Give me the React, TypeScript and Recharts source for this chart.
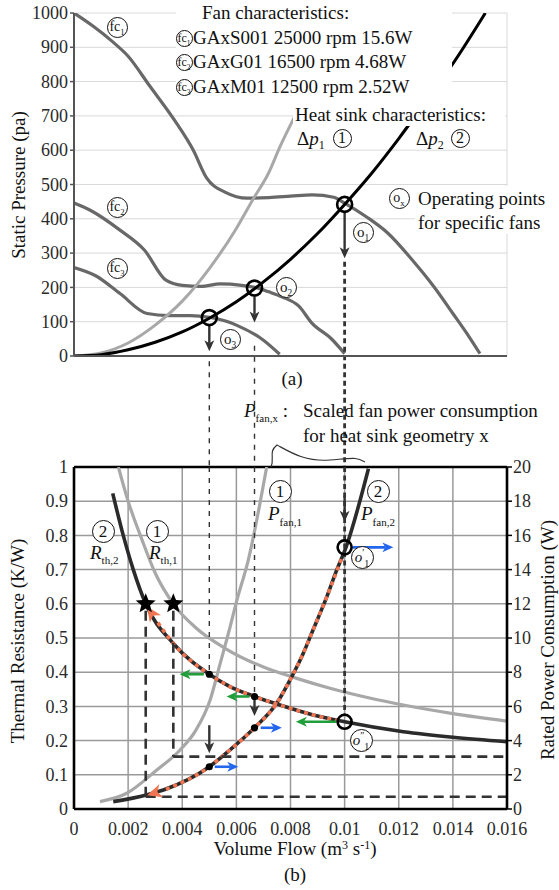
import React from 'react';
import { LineChart, Line, XAxis, YAxis, CartesianGrid, ReferenceLine, ReferenceDot } from 'recharts';

const FONT = "'Liberation Serif', 'Times New Roman', Times, serif";

// ---------- axes ----------
const FLOW_TICKS = [0, 0.002, 0.004, 0.006, 0.008, 0.01, 0.012, 0.014, 0.016];
const PRESSURE_TICKS = [0, 100, 200, 300, 400, 500, 600, 700, 800, 900, 1000];
const RTH_TICKS = [0, 0.1, 0.2, 0.3, 0.4, 0.5, 0.6, 0.7, 0.8, 0.9, 1];
const POWER_TICKS = [0, 2, 4, 6, 8, 10, 12, 14, 16, 18, 20];

// ---------- (a) fan characteristics [flow, pressure] ----------
const fc1Pts = [[0, 1000], [0.0007, 962], [0.0014, 918], [0.002, 874], [0.0028, 787], [0.0037, 689], [0.0044, 601], [0.0049, 519], [0.0056, 477], [0.0064, 460], [0.0072, 462], [0.008, 466], [0.0088, 470], [0.0096, 463], [0.01, 446], [0.0108, 406], [0.0116, 358], [0.0125, 280], [0.0133, 202], [0.014, 124], [0.0146, 56], [0.015, 7]];
const fc2Pts = [[0, 446], [0.0006, 425], [0.0017, 367], [0.0026, 309], [0.0034, 221], [0.004, 206], [0.0047, 203], [0.0054, 210], [0.0062, 206], [0.0067, 200], [0.0072, 187], [0.0077, 172], [0.0083, 146], [0.0088, 95], [0.0095, 51], [0.01, 7]];
const fc3Pts = [[0, 258], [0.0008, 234], [0.0017, 182], [0.0027, 124], [0.0035, 118], [0.0043, 118], [0.005, 113], [0.0056, 102], [0.006, 90], [0.007, 46], [0.0076, 5]];
// heat sink characteristics
const dp1Pts = [[0, 0], [0.001, 9], [0.002, 38], [0.003, 90], [0.004, 160], [0.005, 255], [0.006, 372], [0.0066, 455], [0.0072, 535], [0.0076, 608], [0.0082, 705]];
const dp2Pts = [[0, 0], [0.001, 4], [0.002, 18], [0.003, 40], [0.004, 70], [0.005, 110], [0.006, 158], [0.007, 216], [0.008, 282], [0.009, 357], [0.01, 442], [0.011, 533], [0.012, 634], [0.013, 742], [0.014, 852], [0.0152, 1000]];
// operating points
const opPts = [[0.01, 442], [0.00667, 198], [0.005, 112]];

// ---------- (b) thermal resistance [flow, K/W] and power [flow, W] ----------
const rth1Pts = [[0.00164, 1.0], [0.002, 0.9], [0.0025, 0.79], [0.003, 0.69], [0.00367, 0.6], [0.0045, 0.53], [0.00558, 0.47], [0.007, 0.415], [0.00823, 0.382], [0.00946, 0.353], [0.011, 0.323], [0.01217, 0.304], [0.014, 0.279], [0.016, 0.257]];
const rth2Pts = [[0.00143, 0.923], [0.00182, 0.8], [0.00219, 0.7], [0.00265, 0.6], [0.00367, 0.484], [0.005, 0.394], [0.00576, 0.358], [0.00667, 0.329], [0.00761, 0.304], [0.00884, 0.275], [0.01, 0.255], [0.01217, 0.226], [0.014, 0.21], [0.016, 0.197]];
const rth2PathPts = [[0.0031, 0.545], [0.00367, 0.484], [0.005, 0.394], [0.00576, 0.358], [0.00667, 0.329], [0.00761, 0.304], [0.00884, 0.275], [0.0098, 0.258]];
const pfan1Pts = [[0.00096, 0.43], [0.00195, 0.92], [0.00306, 2.28], [0.00392, 3.45], [0.0045, 4.6], [0.00503, 6.37], [0.0054, 8.5], [0.00576, 10.6], [0.006, 12.1], [0.00644, 14.56], [0.00712, 20]];
const pfan2Pts = [[0.00145, 0.43], [0.00268, 0.82], [0.0033, 1.11], [0.005, 2.47], [0.00576, 3.45], [0.00667, 4.75], [0.00749, 6.18], [0.00798, 7.54], [0.00847, 9.1], [0.00884, 10.5], [0.00934, 12.4], [0.00971, 13.98], [0.01005, 15.3], [0.01088, 19.9]];
const pfan2PathPts = [[0.0034, 1.15], [0.005, 2.47], [0.00576, 3.45], [0.00667, 4.75], [0.00749, 6.18], [0.00798, 7.54], [0.00847, 9.1], [0.00884, 10.5], [0.00934, 12.4], [0.0099, 14.7]];
const starPts = [[0.00265, 0.6], [0.00367, 0.6]];

// annotations (data coordinates)
const topArrows = [[0.005, 92, 0.005, 14], [0.00667, 172, 0.00667, 98], [0.01, 418, 0.01, 285]];
const topThinDash = [[0.005, -15, 0.005, -325], [0.00667, 30, 0.00667, -325]];
const topThickDash = [[0.01, 275, 0.01, -325]];
const botThinDash = [[0.005, 1, 0.005, 0.4], [0.00667, 1, 0.00667, 0.335]];
const botThickDash = [[0.01, 1, 0.01, 0.275]];
const botArrows = [[0.005, 0.245, 0.005, 0.163], [0.00667, 0.322, 0.00667, 0.272], [0.01, 0.915, 0.01, 0.84]];
const starDash = [[0.00265, 0.58, 0.00265, 0.036], [0.00265, 0.036, 0.016, 0.036], [0.00367, 0.58, 0.00367, 0.153], [0.00367, 0.153, 0.016, 0.153]];
const greenArrows = [[0.0048, 0.394, 0.0039, 0.394], [0.00648, 0.329, 0.00564, 0.329], [0.0097, 0.255, 0.0082, 0.255]];
const blueArrows = [[0.0052, 2.47, 0.00607, 2.47], [0.0069, 4.75, 0.00768, 4.75], [0.0103, 15.3, 0.0118, 15.3]];
const rDots = [[0.005, 0.394], [0.00667, 0.329]];
const pDots = [[0.005, 2.47], [0.00667, 4.75]];
const orangeHeadsL = [[0.0031, 0.545, 0.0027, 0.592]];
const orangeHeadsR = [[0.0034, 1.15, 0.0027, 0.8]];

const xy = (pts: number[][]) => pts.map(([x, y]) => ({ x, y }));
const fmt = (v: number) => String(Math.round(v * 1000) / 1000);

const ORANGE = '#f07552';
const DARK = '#333';

const makeTick = (formatter?: (v: number) => string) => (p: any) => {
  const va = p.verticalAnchor;
  const dy = va === 'start' ? '0.71em' : va === 'end' ? '0' : '0.34em';
  const v = p.payload ? p.payload.value : '';
  return (
    <text x={p.x} y={p.y} textAnchor={p.textAnchor} dy={dy} fontSize={18} fontFamily={FONT} fill="#2a2a2a">
      {formatter ? formatter(v) : String(v)}
    </text>
  );
};

const arrowShape = (color: string, w: number, head: number, showLine = true) => (p: any) => {
  const { x1, y1, x2, y2 } = p;
  if (![x1, y1, x2, y2].every((v: any) => Number.isFinite(v))) return <g />;
  const dx = x2 - x1, dy = y2 - y1;
  const L = Math.hypot(dx, dy) || 1;
  const ux = dx / L, uy = dy / L;
  const hw = head * 0.45;
  const bx = x2 - ux * head, by = y2 - uy * head;
  const nx = x2 - ux * head * 0.72, ny = y2 - uy * head * 0.72;
  const pts = `${x2},${y2} ${bx - uy * hw},${by + ux * hw} ${nx},${ny} ${bx + uy * hw},${by - ux * hw}`;
  return (
    <g>
      {showLine && <line x1={x1} y1={y1} x2={nx} y2={ny} stroke={color} strokeWidth={w} />}
      <polygon points={pts} fill={color} />
    </g>
  );
};

const starShape = (p: any) => {
  const { cx, cy } = p;
  const pts: string[] = [];
  for (let i = 0; i < 10; i++) {
    const r = i % 2 === 0 ? 10.5 : 4.6;
    const a = -Math.PI / 2 + (i * Math.PI) / 5;
    pts.push(`${cx + r * Math.cos(a)},${cy + r * Math.sin(a)}`);
  }
  return <polygon points={pts.join(' ')} fill="#000" />;
};

const seg = (s: number[]) => [{ x: s[0], y: s[1] }, { x: s[2], y: s[3] }];

// ---------- HTML text helpers ----------
const Txt = ({ x, y, fs = 19, children, center = false, bg = false, color = '#111' }: any) => (
  <div style={{ position: 'absolute', left: x, top: y - fs * 0.62, height: fs * 1.24, lineHeight: `${fs * 1.24}px`, fontSize: fs, whiteSpace: 'nowrap', transform: center ? 'translateX(-50%)' : undefined, background: bg ? '#fff' : undefined, fontFamily: FONT, color }}>{children}</div>
);
const Circ = ({ cx, cy, d, fs, children, bw = 1.4 }: any) => (
  <div style={{ position: 'absolute', left: cx - d / 2, top: cy - d / 2, width: d, height: d, boxSizing: 'border-box', border: `${bw}px solid #111`, borderRadius: '50%', display: 'flex', alignItems: 'center', justifyContent: 'center', fontSize: fs, fontFamily: FONT, background: '#fff', lineHeight: 1, color: '#111' }}>{children}</div>
);
const Sub = ({ children, fs, dy = 0.35 }: any) => (
  <span style={{ fontSize: fs, position: 'relative', top: `${dy}em` }}>{children}</span>
);
const FcLabel = ({ n, fs }: any) => (<span>fc<Sub fs={fs * 0.62} dy={0.5}>{n}</Sub></span>);
const OLabel = ({ n, fs }: any) => (<span>o<Sub fs={fs * 0.62} dy={0.5}>{n}</Sub></span>);
const WhiteBox = ({ x, y, w, h }: any) => (
  <div style={{ position: 'absolute', left: x, top: y, width: w, height: h, background: '#fff' }} />
);

export default function App() {
  return (
    <div style={{ position: 'absolute', left: 0, top: 0, width: 559, height: 890, background: '#fff', overflow: 'hidden', fontFamily: FONT }}>
      {/* ---------- (a) ---------- */}
      <div style={{ position: 'absolute', left: 0, top: 0 }}>
        <LineChart width={559} height={890} margin={{ top: 13, right: 52, bottom: 504, left: 14 }}>
          <CartesianGrid stroke="#d9d9d9" strokeWidth={1} />
          <XAxis type="number" dataKey="x" domain={[0, 0.016]} ticks={FLOW_TICKS} allowDataOverflow tick={false} tickSize={4} height={30} axisLine={{ stroke: '#555', strokeWidth: 2 }} tickLine={{ stroke: '#555', strokeWidth: 1.5 }} />
          <YAxis type="number" domain={[0, 1000]} ticks={PRESSURE_TICKS} allowDataOverflow width={60} tickSize={4} tickMargin={2} tick={makeTick()} axisLine={{ stroke: '#555', strokeWidth: 2 }} tickLine={{ stroke: '#555', strokeWidth: 1.5 }} />
          <Line data={xy(fc1Pts)} dataKey="y" type="monotone" stroke="#686868" strokeWidth={3.2} dot={false} activeDot={false} isAnimationActive={false} />
          <Line data={xy(fc2Pts)} dataKey="y" type="monotone" stroke="#686868" strokeWidth={3.2} dot={false} activeDot={false} isAnimationActive={false} />
          <Line data={xy(fc3Pts)} dataKey="y" type="monotone" stroke="#686868" strokeWidth={3.2} dot={false} activeDot={false} isAnimationActive={false} />
          <Line data={xy(dp1Pts)} dataKey="y" type="monotone" stroke="#a8a8a8" strokeWidth={3} dot={false} activeDot={false} isAnimationActive={false} />
          <Line data={xy(dp2Pts)} dataKey="y" type="monotone" stroke="#000" strokeWidth={3} dot={false} activeDot={false} isAnimationActive={false} />
          {topThinDash.map((s, i) => (
            <ReferenceLine key={'ttd' + i} segment={seg(s)} ifOverflow="visible" stroke={DARK} strokeWidth={1.4} strokeDasharray="5 6" />
          ))}
          {topThickDash.map((s, i) => (
            <ReferenceLine key={'tkd' + i} segment={seg(s)} ifOverflow="visible" stroke={DARK} strokeWidth={2.8} strokeDasharray="5 3.5" />
          ))}
          {topArrows.map((s, i) => (
            <ReferenceLine key={'ta' + i} segment={seg(s)} ifOverflow="visible" shape={arrowShape(DARK, 2.4, 11)} />
          ))}
          {opPts.map(([x, y], i) => (
            <ReferenceDot key={'op' + i} x={x} y={y} r={7.5} fill="none" stroke="#000" strokeWidth={2.6} ifOverflow="visible" />
          ))}
        </LineChart>
      </div>

      {/* ---------- (b) ---------- */}
      <div style={{ position: 'absolute', left: 0, top: 0 }}>
        <LineChart width={559} height={890} margin={{ top: 467, right: 0, bottom: 51, left: 14 }}>
          <CartesianGrid yAxisId="L" stroke="#9a9a9a" strokeWidth={1.5} />
          <XAxis type="number" dataKey="x" domain={[0, 0.016]} ticks={FLOW_TICKS} allowDataOverflow height={30} tickSize={8} tickMargin={5} tick={makeTick(fmt)} tickLine={false} axisLine={{ stroke: '#000', strokeWidth: 2.6 }} />
          <YAxis yAxisId="L" type="number" domain={[0, 1]} ticks={RTH_TICKS} allowDataOverflow width={60} tickSize={4} tickMargin={2} tick={makeTick(fmt)} tickLine={false} axisLine={{ stroke: '#000', strokeWidth: 2.6 }} />
          <YAxis yAxisId="R" orientation="right" type="number" domain={[0, 20]} ticks={POWER_TICKS} allowDataOverflow width={52} tickSize={5} tickMargin={1} tick={makeTick()} tickLine={{ stroke: '#000', strokeWidth: 1.5 }} axisLine={{ stroke: '#000', strokeWidth: 2.6 }} />
          <ReferenceLine yAxisId="L" y={1} stroke="#000" strokeWidth={2.6} />
          <Line yAxisId="L" data={xy(rth1Pts)} dataKey="y" type="monotone" stroke="#a8a8a8" strokeWidth={3.2} dot={false} activeDot={false} isAnimationActive={false} />
          <Line yAxisId="R" data={xy(pfan1Pts)} dataKey="y" type="monotone" stroke="#a8a8a8" strokeWidth={3.2} dot={false} activeDot={false} isAnimationActive={false} />
          <Line yAxisId="L" data={xy(rth2Pts)} dataKey="y" type="monotone" stroke="#2b2b2b" strokeWidth={3.6} dot={false} activeDot={false} isAnimationActive={false} />
          <Line yAxisId="R" data={xy(pfan2Pts)} dataKey="y" type="monotone" stroke="#2b2b2b" strokeWidth={3.6} dot={false} activeDot={false} isAnimationActive={false} />
          <Line yAxisId="L" data={xy(rth2PathPts)} dataKey="y" type="monotone" stroke={ORANGE} strokeWidth={3.6} strokeDasharray="4 4" dot={false} activeDot={false} isAnimationActive={false} />
          <Line yAxisId="R" data={xy(pfan2PathPts)} dataKey="y" type="monotone" stroke={ORANGE} strokeWidth={3.6} strokeDasharray="4 4" dot={false} activeDot={false} isAnimationActive={false} />
          {botThinDash.map((s, i) => (
            <ReferenceLine key={'btd' + i} yAxisId="L" segment={seg(s)} ifOverflow="visible" stroke={DARK} strokeWidth={1.4} strokeDasharray="5 6" />
          ))}
          {botThickDash.map((s, i) => (
            <ReferenceLine key={'bkd' + i} yAxisId="L" segment={seg(s)} ifOverflow="visible" stroke={DARK} strokeWidth={2.8} strokeDasharray="5 3.5" />
          ))}
          {starDash.map((s, i) => (
            <ReferenceLine key={'sd' + i} yAxisId="L" segment={seg(s)} ifOverflow="visible" stroke={DARK} strokeWidth={2.6} strokeDasharray="10 6" />
          ))}
          {botArrows.map((s, i) => (
            <ReferenceLine key={'ba' + i} yAxisId="L" segment={seg(s)} ifOverflow="visible" shape={arrowShape(DARK, 2.4, 11)} />
          ))}
          {greenArrows.map((s, i) => (
            <ReferenceLine key={'ga' + i} yAxisId="L" segment={seg(s)} ifOverflow="visible" shape={arrowShape('#1f9e3a', 2.6, 11)} />
          ))}
          {blueArrows.map((s, i) => (
            <ReferenceLine key={'bl' + i} yAxisId="R" segment={seg(s)} ifOverflow="visible" shape={arrowShape('#2266ee', 2.6, 11)} />
          ))}
          {orangeHeadsL.map((s, i) => (
            <ReferenceLine key={'ohl' + i} yAxisId="L" segment={seg(s)} ifOverflow="visible" shape={arrowShape(ORANGE, 0, 15, false)} />
          ))}
          {orangeHeadsR.map((s, i) => (
            <ReferenceLine key={'ohr' + i} yAxisId="R" segment={seg(s)} ifOverflow="visible" shape={arrowShape(ORANGE, 0, 15, false)} />
          ))}
          {rDots.map(([x, y], i) => (
            <ReferenceDot key={'rd' + i} yAxisId="L" x={x} y={y} r={3.6} fill="#000" stroke="none" ifOverflow="visible" />
          ))}
          {pDots.map(([x, y], i) => (
            <ReferenceDot key={'pd' + i} yAxisId="R" x={x} y={y} r={3.6} fill="#000" stroke="none" ifOverflow="visible" />
          ))}
          {starPts.map(([x, y], i) => (
            <ReferenceDot key={'st' + i} yAxisId="L" x={x} y={y} r={10} shape={starShape} ifOverflow="visible" />
          ))}
          <ReferenceDot yAxisId="L" x={0.01} y={0.255} r={7} fill="none" stroke="#000" strokeWidth={2.6} ifOverflow="visible" />
          <ReferenceDot yAxisId="R" x={0.01} y={15.3} r={7} fill="none" stroke="#000" strokeWidth={2.6} ifOverflow="visible" />
        </LineChart>
      </div>

      {/* ---------- text overlays (a) ---------- */}
      <WhiteBox x={176} y={0} w={276} h={99} />
      <WhiteBox x={293} y={99} w={212} h={27} />
      <WhiteBox x={386} y={186} w={172} h={24} />
      <WhiteBox x={415} y={210} w={143} h={24} />
      <Txt x={202} y={13}>Fan characteristics:</Txt>
      <Circ cx={184} cy={38} d={17} fs={12}><FcLabel n="1" fs={12} /></Circ>
      <Txt x={193} y={38}>GAxS001 25000 rpm 15.6W</Txt>
      <Circ cx={184} cy={62} d={17} fs={12}><FcLabel n="2" fs={12} /></Circ>
      <Txt x={193} y={62}>GAxG01 16500 rpm 4.68W</Txt>
      <Circ cx={184} cy={87} d={17} fs={12}><FcLabel n="3" fs={12} /></Circ>
      <Txt x={193} y={87}>GAxM01 12500 rpm 2.52W</Txt>
      <Txt x={295} y={115}>Heat sink characteristics:</Txt>
      <Txt x={297} y={139}>Δ<i>p</i><Sub fs={12}>1</Sub></Txt>
      <Circ cx={342} cy={138} d={19} fs={16}>1</Circ>
      <Txt x={416} y={139}>Δ<i>p</i><Sub fs={12}>2</Sub></Txt>
      <Circ cx={460} cy={138} d={19} fs={16}>2</Circ>
      <Circ cx={399} cy={198} d={21} fs={14}><OLabel n="x" fs={14} /></Circ>
      <Txt x={418} y={199}>Operating points</Txt>
      <Txt x={418} y={223}>for specific fans</Txt>
      <Circ cx={117} cy={27} d={21} fs={14}><FcLabel n="1" fs={14} /></Circ>
      <Circ cx={117} cy={207} d={21} fs={14}><FcLabel n="2" fs={14} /></Circ>
      <Circ cx={117} cy={268} d={21} fs={14}><FcLabel n="3" fs={14} /></Circ>
      <Circ cx={363} cy={232} d={21} fs={15}><OLabel n="1" fs={15} /></Circ>
      <Circ cx={286} cy={287} d={21} fs={15}><OLabel n="2" fs={15} /></Circ>
      <Circ cx={230} cy={339} d={21} fs={15}><OLabel n="3" fs={15} /></Circ>
      <div style={{ position: 'absolute', left: 19, top: 185, transform: 'translate(-50%, -50%) rotate(-90deg)', whiteSpace: 'nowrap', fontSize: 19, color: '#111' }}>Static Pressure (pa)</div>
      <Txt x={292} y={379} center>(a)</Txt>

      {/* ---------- middle annotation ---------- */}
      <Txt x={244} y={411}><i>P</i><Sub fs={11} dy={0.45}>fan,x</Sub> :</Txt>
      <Txt x={303} y={411}>Scaled fan power consumption</Txt>
      <Txt x={303} y={436}>for heat sink geometry x</Txt>
      <svg style={{ position: 'absolute', left: 0, top: 0 }} width={559} height={890}>
        <path d="M271,467 C275,458 268,452 277,445 C290,452 305,462 330,460 S356,457 365,462" fill="none" stroke="#333" strokeWidth={1.2} />
      </svg>

      {/* ---------- text overlays (b) ---------- */}
      <Circ cx={103} cy={531} d={23} fs={17}>2</Circ>
      <Txt x={90} y={553}><i>R</i><Sub fs={11} dy={0.45}>th,2</Sub></Txt>
      <Circ cx={157} cy={531} d={23} fs={17}>1</Circ>
      <Txt x={149} y={553}><i>R</i><Sub fs={11} dy={0.45}>th,1</Sub></Txt>
      <Circ cx={280} cy={491} d={23} fs={17}>1</Circ>
      <Txt x={268} y={514}><i>P</i><Sub fs={11} dy={0.5}>fan,1</Sub></Txt>
      <Circ cx={378} cy={491} d={23} fs={17}>2</Circ>
      <Txt x={361} y={514}><i>P</i><Sub fs={11} dy={0.5}>fan,2</Sub></Txt>
      <Circ cx={362} cy={557} d={23} fs={15}><span><i>o</i><span style={{ fontSize: 10, position: 'relative', top: '-0.6em' }}>′</span><Sub fs={10} dy={0.5}>1</Sub></span></Circ>
      <Circ cx={361} cy={740} d={23} fs={15}><span><i>o</i><span style={{ fontSize: 10, position: 'relative', top: '-0.6em' }}>″</span><Sub fs={10} dy={0.5}>1</Sub></span></Circ>
      <div style={{ position: 'absolute', left: 18, top: 641, transform: 'translate(-50%, -50%) rotate(-90deg)', whiteSpace: 'nowrap', fontSize: 19, color: '#111' }}>Thermal Resistance (K/W)</div>
      <div style={{ position: 'absolute', left: 548, top: 640, transform: 'translate(-50%, -50%) rotate(-90deg)', whiteSpace: 'nowrap', fontSize: 19, color: '#111' }}>Rated Power Consumption (W)</div>
      <Txt x={295} y={849} center>Volume Flow (m<span style={{ fontSize: 12, position: 'relative', top: '-0.5em' }}>3</span> s<span style={{ fontSize: 12, position: 'relative', top: '-0.5em' }}>-1</span>)</Txt>
      <Txt x={295} y={875} center>(b)</Txt>
    </div>
  );
}
